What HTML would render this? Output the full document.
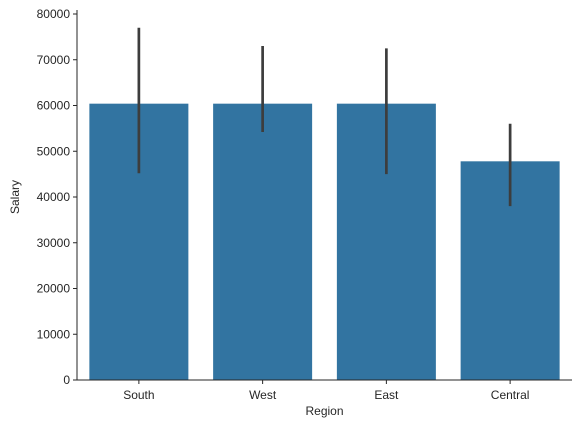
<!DOCTYPE html>
<html><head><meta charset="utf-8"><style>
body{margin:0;background:#fff;}
svg text{font-family:"Liberation Sans","DejaVu Sans",sans-serif;font-size:12px;fill:#262626;}
</style></head><body>
<svg id="chart" width="582" height="429" viewBox="0 0 582 429"></svg>
<script>
const categories=["South","West","East","Central"];
const means=[60400,60400,60400,47800];
const errLow=[45200,54200,45000,38000];
const errHigh=[77000,73000,72500,56000];
const yTicks=[0,10000,20000,30000,40000,50000,60000,70000,80000];
const NS="http://www.w3.org/2000/svg";
const svg=document.getElementById('chart');
const L=77,R=572,T=14,B=380,YMAX=80000;
const y=v=>B-(v/YMAX)*(B-T);
const step=(R-L)/categories.length;
const xc=i=>L+step*(i+0.5);
function mk(tag,attrs,parent){const e=document.createElementNS(NS,tag);for(const k in attrs)e.setAttribute(k,attrs[k]);(parent||svg).appendChild(e);return e;}
categories.forEach((c,i)=>{
  const w=step*0.8;
  const bar=mk('rect',{x:xc(i)-w/2,y:y(means[i]),width:w,height:B-y(means[i]),fill:'#3274a1'});
  
  
  const eb=mk('line',{x1:xc(i),x2:xc(i),y1:y(errLow[i]),y2:y(errHigh[i]),stroke:'#3d3d3d','stroke-width':2.7});
  
  
  mk('line',{x1:xc(i),x2:xc(i),y1:B,y2:B+4,stroke:'#262626','stroke-width':1});
  const t=mk('text',{x:xc(i),y:B+19,'text-anchor':'middle'});t.textContent=c;
  
  
});
yTicks.forEach(v=>{
  mk('line',{x1:L-4,x2:L,y1:y(v),y2:y(v),stroke:'#262626','stroke-width':1});
  const t=mk('text',{x:L-7,y:y(v)+4,'text-anchor':'end'});t.textContent=v;
  
  
});
const ya=mk('line',{x1:L,x2:L,y1:T-4,y2:B,stroke:'#262626','stroke-width':1});


const xa=mk('line',{x1:L,x2:R,y1:B,y2:B,stroke:'#262626','stroke-width':1});


const xt=mk('text',{x:(L+R)/2,y:415,'text-anchor':'middle'});xt.textContent='Region';


const yt=mk('text',{x:19,y:(T+B)/2,'text-anchor':'middle',transform:'rotate(-90 19 '+((T+B)/2)+')'});yt.textContent='Salary';


</script>
</body></html>
